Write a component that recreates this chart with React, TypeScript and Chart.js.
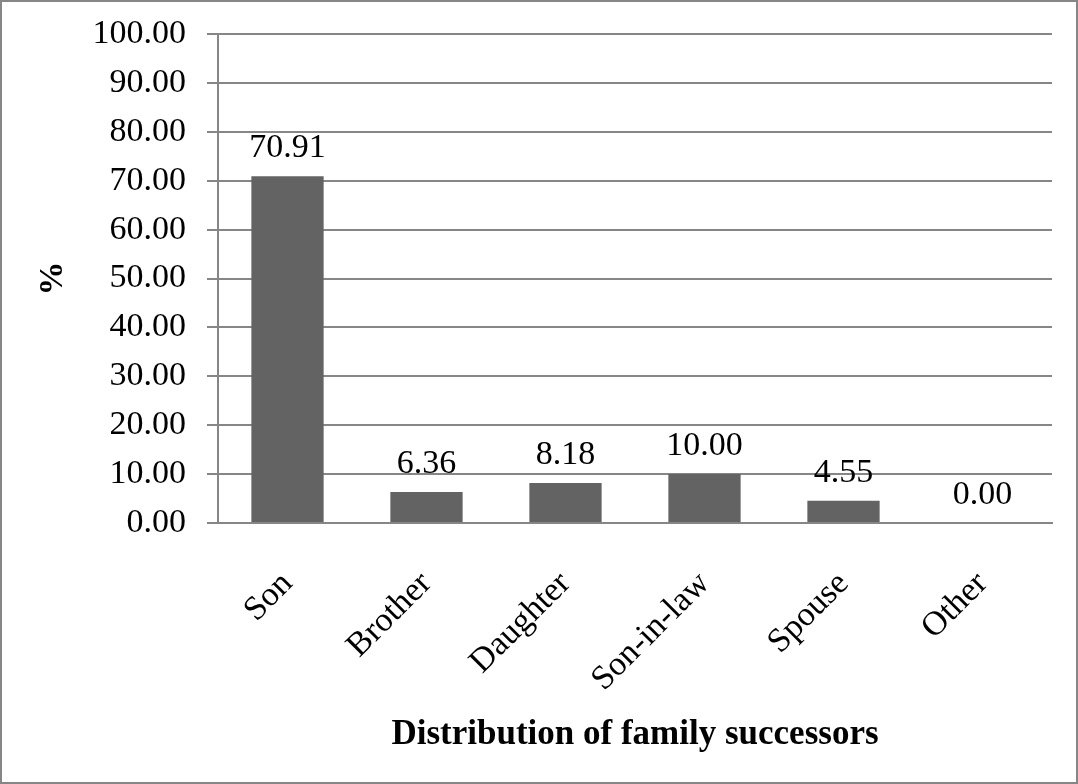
import React, { useEffect, useRef } from "react";
import { Chart, registerables } from "chart.js";

Chart.register(...registerables);

const categories = ["Son", "Brother", "Daughter", "Son-in-law", "Spouse", "Other"];
const percentValues = [70.91, 6.36, 8.18, 10.0, 4.55, 0.0];
const yTitle = "%";
const xTitle = "Distribution of family successors";

const FONT = '"Liberation Serif", "Times New Roman", Times, serif';
const GRAY = "#868686";
const BAR = "#636363";

export default function App() {
  const ref = useRef<HTMLCanvasElement | null>(null);

  useEffect(() => {
    document.body.style.margin = "0";
    const canvas = ref.current;
    if (!canvas) return;

    const frame = {
      id: "frame",
      beforeDraw(chart: any) {
        const ctx = chart.ctx;
        ctx.save();
        ctx.fillStyle = "#ffffff";
        ctx.fillRect(0, 0, chart.width, chart.height);
        ctx.strokeStyle = GRAY;
        ctx.lineWidth = 2;
        ctx.strokeRect(1, 1, chart.width - 2, chart.height - 2);
        ctx.restore();
      },
    };

    const valueLabels = {
      id: "valueLabels",
      afterDatasetsDraw(chart: any) {
        const ctx = chart.ctx;
        const meta = chart.getDatasetMeta(0);
        const data = chart.data.datasets[0].data as number[];
        ctx.save();
        ctx.font = `34px ${FONT}`;
        ctx.fillStyle = "#000000";
        ctx.textAlign = "center";
        ctx.textBaseline = "alphabetic";
        meta.data.forEach((el: any, i: number) => {
          ctx.fillText(Number(data[i]).toFixed(2), el.x, el.y - 19);
        });
        ctx.restore();
      },
    };

    const chart = new Chart(canvas, {
      type: "bar",
      data: {
        labels: categories,
        datasets: [
          {
            data: percentValues,
            backgroundColor: BAR,
            borderWidth: 0,
            barPercentage: 0.52,
            categoryPercentage: 1,
          },
        ],
      },
      options: {
        responsive: false,
        animation: false,
        devicePixelRatio: 1,
        layout: { padding: { top: 34, right: 26, left: 0, bottom: 0 } },
        plugins: {
          legend: { display: false },
          tooltip: { enabled: false },
        },
        scales: {
          x: {
            grid: { display: false, drawTicks: false },
            border: { display: true, color: GRAY, width: 2 },
            ticks: {
              color: "#000000",
              font: { family: FONT, size: 34 },
              minRotation: 45,
              maxRotation: 45,
              padding: 41,
              autoSkip: false,
            },
            title: {
              display: true,
              text: xTitle,
              color: "#000000",
              font: { family: FONT, size: 35, weight: "bold" },
              padding: { top: 0, bottom: 28 },
            },
            afterFit(axis: any) {
              axis.height = 261;
            },
          },
          y: {
            min: 0,
            max: 100,
            grid: {
              color: GRAY,
              lineWidth: 2,
              drawTicks: true,
              tickLength: 11,
            },
            border: { display: true, color: GRAY, width: 2 },
            ticks: {
              stepSize: 10,
              color: "#000000",
              font: { family: FONT, size: 34 },
              padding: 21,
              callback: (v: any) => Number(v).toFixed(2),
            },
            title: {
              display: true,
              text: yTitle,
              color: "#000000",
              font: { family: FONT, size: 34, weight: "bold" },
              padding: { top: 33, bottom: 0 },
            },
            afterFit(axis: any) {
              axis.width = 218;
              axis.paddingTop = 0;
              axis.paddingBottom = 0;
            },
          },
        },
      },
      plugins: [frame, valueLabels],
    } as any);

    return () => chart.destroy();
  }, []);

  return (
    <div style={{ position: "absolute", left: 0, top: 0, width: 1078, height: 784 }}>
      <canvas ref={ref} width={1078} height={784} style={{ display: "block" }} />
    </div>
  );
}
